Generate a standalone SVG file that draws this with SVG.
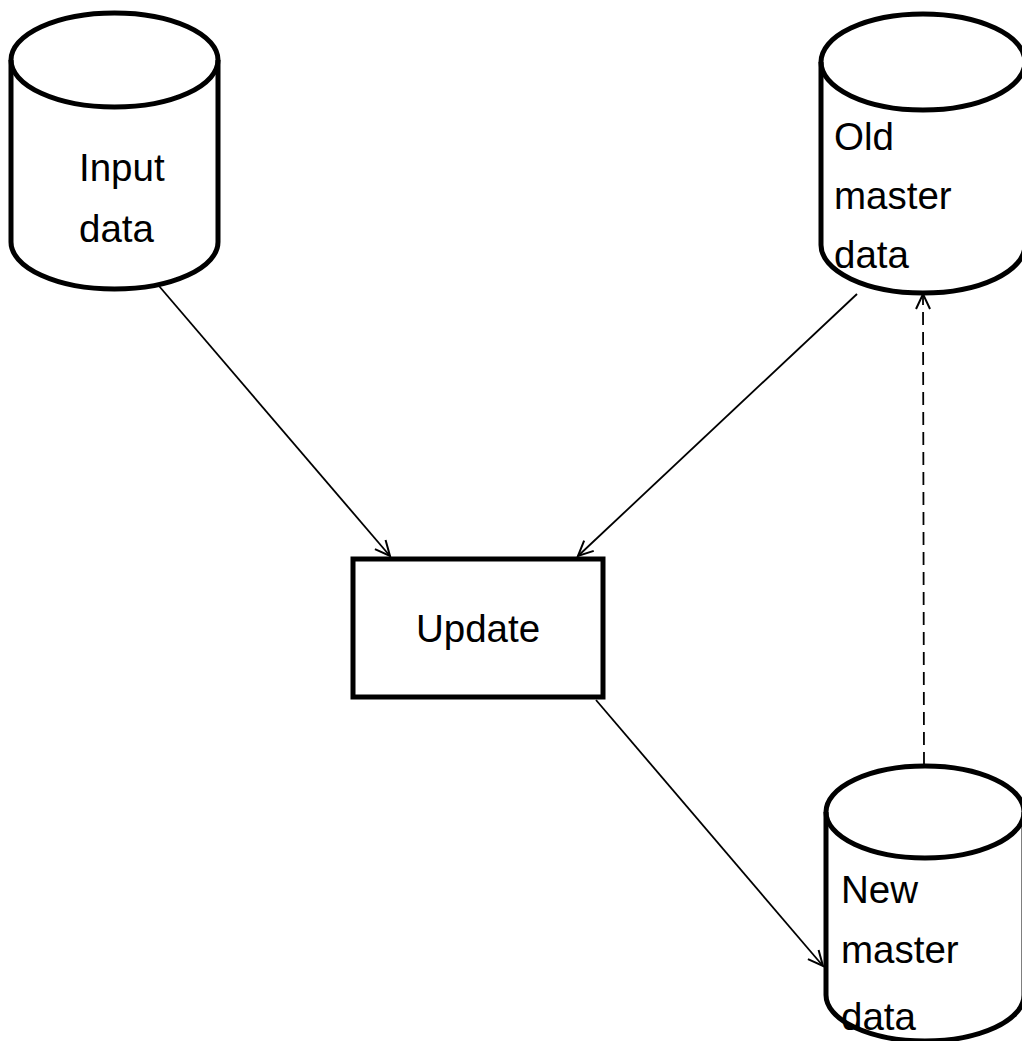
<svg xmlns="http://www.w3.org/2000/svg" width="1022" height="1041" viewBox="0 0 1022 1041">
<style>
.shape{fill:#fff;stroke:#000;stroke-width:5}
.lbl{font-family:"Liberation Sans",Arial,sans-serif;font-size:38.5px;fill:#000}
.conn{fill:none;stroke:#000;stroke-width:1.8}
.dash{stroke-dasharray:13,7}
</style>
<defs>
<marker id="ah" markerUnits="userSpaceOnUse" markerWidth="24" markerHeight="24" refX="16" refY="8" orient="auto" viewBox="0 0 24 16">
<path d="M1,1 L16,8 L1,15" fill="none" stroke="#000" stroke-width="2"/>
</marker>
</defs>
<rect width="1022" height="1041" fill="#fff"/>
<g id="connectors">
<line class="conn" x1="159" y1="286" x2="390" y2="556" marker-end="url(#ah)"/>
<line class="conn" x1="857" y1="294" x2="578" y2="556" marker-end="url(#ah)"/>
<line class="conn" x1="596" y1="700" x2="823" y2="966" marker-end="url(#ah)"/>
<line class="conn dash" x1="924" y1="765" x2="923" y2="294" marker-end="url(#ah)"/>
</g>
<g id="input-data">
<path class="shape" d="M11,60 L11,242 A103.5,47 0 0 0 218,242 L218,60 A103.5,47 0 0 0 11,60 Z"/>
<path class="shape" d="M11,60 A103.5,47 0 0 0 218,60" style="fill:none"/>
<text class="lbl" x="79" y="181">Input</text>
<text class="lbl" x="79" y="242">data</text>
</g>
<g id="old-master-data">
<path class="shape" d="M821,62 L821,245 A102,48 0 0 0 1025,245 L1025,62 A102,48 0 0 0 821,62 Z"/>
<path class="shape" d="M821,62 A102,48 0 0 0 1025,62" style="fill:none"/>
<text class="lbl" x="834" y="150">Old</text>
<text class="lbl" x="834" y="209">master</text>
<text class="lbl" x="834" y="268">data</text>
</g>
<g id="update">
<rect class="shape" x="353" y="559" width="250" height="138"/>
<text class="lbl" x="478" y="642" text-anchor="middle">Update</text>
</g>
<g id="new-master-data">
<path class="shape" d="M826,812 L826,995 A99,46 0 0 0 1024,995 L1024,812 A99,46 0 0 0 826,812 Z"/>
<path class="shape" d="M826,812 A99,46 0 0 0 1024,812" style="fill:none"/>
<text class="lbl" x="841" y="903">New</text>
<text class="lbl" x="841" y="963">master</text>
<text class="lbl" x="841" y="1030">data</text>
</g>
</svg>
